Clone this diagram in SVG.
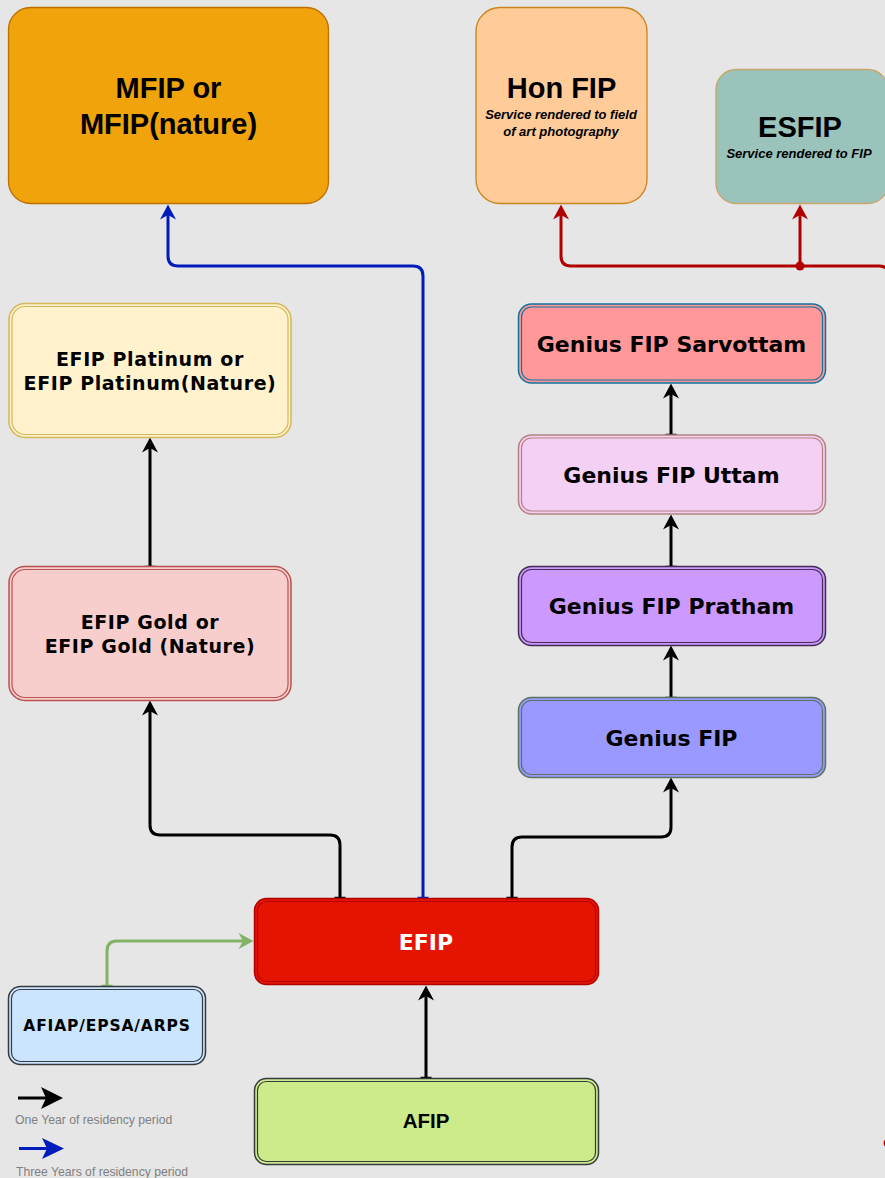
<svg xmlns="http://www.w3.org/2000/svg" width="885" height="1178" viewBox="0 0 885 1178">
<style>
.v{font-family:"DejaVu Sans",Verdana,sans-serif;font-weight:bold;fill:#000;text-anchor:middle}
.h{font-family:"Liberation Sans",Arial,Helvetica,sans-serif;font-weight:bold;fill:#000;text-anchor:middle}
.hi{font-family:"Liberation Sans",Arial,Helvetica,sans-serif;font-weight:bold;font-style:italic;fill:#000;text-anchor:middle;font-size:13px}
.leg{font-family:"Liberation Sans",Arial,Helvetica,sans-serif;fill:#808080;font-size:12.2px}
.c{fill:none;stroke-width:3;stroke-linejoin:round}
.in{fill:none;stroke-width:1.2}
</style>
<defs>
<marker id="ak" markerUnits="userSpaceOnUse" viewBox="0 0 16 16" refX="5" refY="8" markerWidth="16" markerHeight="16" orient="auto"><path d="M0.5,0 L15.5,8 L0.5,16 L5,8 Z" fill="#000"/></marker>
<marker id="ab" markerUnits="userSpaceOnUse" viewBox="0 0 16 16" refX="5" refY="8" markerWidth="16" markerHeight="16" orient="auto"><path d="M0.5,0 L15.5,8 L0.5,16 L5,8 Z" fill="#001dbc"/></marker>
<marker id="ar" markerUnits="userSpaceOnUse" viewBox="0 0 16 16" refX="5" refY="8" markerWidth="16" markerHeight="16" orient="auto"><path d="M0.5,0 L15.5,8 L0.5,16 L5,8 Z" fill="#b20000"/></marker>
<marker id="ag" markerUnits="userSpaceOnUse" viewBox="0 0 16 16" refX="5" refY="8" markerWidth="16" markerHeight="16" orient="auto"><path d="M0.5,0 L15.5,8 L0.5,16 L5,8 Z" fill="#82b366"/></marker>
<marker id="tk" markerUnits="userSpaceOnUse" viewBox="-2 -7 4 14" refX="0" refY="0" markerWidth="4" markerHeight="14" orient="auto"><path d="M0,-5.5 V5.5" stroke="#000" stroke-width="2.5"/></marker>
<marker id="tb" markerUnits="userSpaceOnUse" viewBox="-2 -7 4 14" refX="0" refY="0" markerWidth="4" markerHeight="14" orient="auto"><path d="M0,-5.5 V5.5" stroke="#001dbc" stroke-width="2.5"/></marker>
<marker id="tg" markerUnits="userSpaceOnUse" viewBox="-2 -7 4 14" refX="0" refY="0" markerWidth="4" markerHeight="14" orient="auto"><path d="M0,-5.5 V5.5" stroke="#82b366" stroke-width="2.5"/></marker>
</defs>
<rect width="885" height="1178" fill="#e6e6e6"/>

<g id="connectors">
<path class="c" stroke="#001dbc" d="M423,898 L423,276 Q423,266 413,266 L178,266 Q168,266 168,256 L168,215" marker-start="url(#tb)" marker-end="url(#ab)"/>
<path class="c" stroke="#000" d="M340,898 L340,845 Q340,835 330,835 L160,835 Q150,835 150,825 L150,711" marker-start="url(#tk)" marker-end="url(#ak)"/>
<path class="c" stroke="#000" d="M512,898 L512,847 Q512,837 522,837 L661,837 Q671,837 671,827 L671,788" marker-start="url(#tk)" marker-end="url(#ak)"/>
<path class="c" stroke="#000" d="M150,567 L150,448" marker-start="url(#tk)" marker-end="url(#ak)"/>
<path class="c" stroke="#000" d="M671,698 L671,656" marker-start="url(#tk)" marker-end="url(#ak)"/>
<path class="c" stroke="#000" d="M671,567 L671,525" marker-start="url(#tk)" marker-end="url(#ak)"/>
<path class="c" stroke="#000" d="M671,435 L671,394" marker-start="url(#tk)" marker-end="url(#ak)"/>
<path class="c" stroke="#000" d="M426,1078 L426,996" marker-start="url(#tk)" marker-end="url(#ak)"/>
<path class="c" stroke="#82b366" d="M107,986 L107,951 Q107,941 117,941 L243,941" marker-start="url(#tg)" marker-end="url(#ag)"/>
<path class="c" stroke="#b20000" d="M889,300 L889,276 Q889,266 879,266 L571,266 Q561,266 561,256 L561,215" marker-end="url(#ar)"/>
<path class="c" stroke="#b20000" d="M800,266 L800,215" marker-end="url(#ar)"/>
<circle cx="800" cy="266" r="4.5" fill="#b20000"/>
<circle cx="888" cy="1143" r="4.5" fill="#cc0000"/>
</g>

<g id="mfip">
<rect x="8.5" y="7.5" width="320" height="196" rx="22" fill="#f0a30a" stroke="#bd7000" stroke-width="1.3"/>
<text class="h" x="168.5" y="98" font-size="29">MFIP or</text>
<text class="h" x="168.5" y="134" font-size="29">MFIP(nature)</text>
</g>

<g id="honfip">
<rect x="476" y="7.5" width="171" height="196" rx="24" fill="#ffcc99" stroke="#c9841e" stroke-width="1.3"/>
<text class="h" x="561.5" y="98" font-size="29">Hon FIP</text>
<text class="hi" x="561" y="118.5">Service rendered to field</text>
<text class="hi" x="561" y="135.5">of art photography</text>
</g>

<g id="esfip">
<rect x="716" y="69.5" width="172" height="134" rx="20" fill="#9ac3bb" stroke="#c8a568" stroke-width="1.3"/>
<text class="h" x="800" y="137" font-size="29">ESFIP</text>
<text class="hi" x="799" y="158">Service rendered to FIP</text>
</g>

<g id="efip-platinum">
<rect x="9" y="303.5" width="282" height="134" rx="16" fill="#fff2cc" stroke="#d6b656" stroke-width="1.5"/>
<rect x="12" y="306.5" width="276" height="128" rx="13" class="in" stroke="#d6b656"/>
<text class="v" x="150" y="366" font-size="19" letter-spacing="0.6">EFIP Platinum or</text>
<text class="v" x="150" y="390" font-size="19" letter-spacing="0.6">EFIP Platinum(Nature)</text>
</g>

<g id="efip-gold">
<rect x="9" y="566.5" width="282" height="134" rx="16" fill="#f8cecc" stroke="#b85450" stroke-width="1.5"/>
<rect x="12" y="569.5" width="276" height="128" rx="13" class="in" stroke="#b85450"/>
<text class="v" x="150" y="629" font-size="19" letter-spacing="0.6">EFIP Gold or</text>
<text class="v" x="150" y="653" font-size="19" letter-spacing="0.6">EFIP Gold (Nature)</text>
</g>

<g id="genius-sarvottam">
<rect x="518.5" y="304" width="307" height="79" rx="13" fill="#ff9999" stroke="#10739e" stroke-width="1.5"/>
<rect x="521.5" y="307" width="301" height="73" rx="10" class="in" stroke="#10739e"/>
<text class="v" x="671.5" y="351.5" font-size="22">Genius FIP Sarvottam</text>
</g>

<g id="genius-uttam">
<rect x="518.5" y="435" width="307" height="79" rx="13" fill="#f5d0f5" stroke="#b5827f" stroke-width="1.5"/>
<rect x="521.5" y="438" width="301" height="73" rx="10" class="in" stroke="#b5827f"/>
<text class="v" x="671.5" y="482.5" font-size="22">Genius FIP Uttam</text>
</g>

<g id="genius-pratham">
<rect x="518.5" y="566.5" width="307" height="79" rx="13" fill="#cc99ff" stroke="#432d57" stroke-width="1.5"/>
<rect x="521.5" y="569.5" width="301" height="73" rx="10" class="in" stroke="#432d57"/>
<text class="v" x="671.5" y="614" font-size="22">Genius FIP Pratham</text>
</g>

<g id="genius-fip">
<rect x="518.5" y="697.5" width="307" height="80" rx="13" fill="#9999ff" stroke="#5a7560" stroke-width="1.5"/>
<rect x="521.5" y="700.5" width="301" height="74" rx="10" class="in" stroke="#5a7560"/>
<text class="v" x="671.5" y="745.5" font-size="22">Genius FIP</text>
</g>

<g id="efip">
<rect x="254.5" y="898.5" width="344" height="86" rx="12" fill="#e51400" stroke="#b20000" stroke-width="1.5"/>
<rect x="257.5" y="901.5" width="338" height="80" rx="9" class="in" stroke="#b20000"/>
<text class="v" x="426" y="949.5" font-size="22" style="fill:#fff">EFIP</text>
</g>

<g id="afip">
<rect x="254.5" y="1078.5" width="344" height="86" rx="12" fill="#cdeb8b" stroke="#36393d" stroke-width="1.5"/>
<rect x="257.5" y="1081.5" width="338" height="80" rx="9" class="in" stroke="#36393d"/>
<text class="h" x="426" y="1128" font-size="20.5">AFIP</text>
</g>

<g id="afiap">
<rect x="8.5" y="986.5" width="197" height="78" rx="12" fill="#cce5ff" stroke="#36393d" stroke-width="1.5"/>
<rect x="11.5" y="989.5" width="191" height="72" rx="9" class="in" stroke="#36393d"/>
<text class="v" x="107" y="1031" font-size="15.5" letter-spacing="0.85">AFIAP/EPSA/ARPS</text>
</g>

<g id="legend">
<line x1="18" y1="1098" x2="48" y2="1098" stroke="#000" stroke-width="3"/>
<polygon points="41,1087 63,1098 41,1109 46,1098" fill="#000"/>
<text class="leg" x="15" y="1123.5">One Year of residency period</text>
<line x1="19" y1="1148.5" x2="50" y2="1148.5" stroke="#001dbc" stroke-width="3"/>
<polygon points="42,1138 64,1148.5 42,1159 47,1148.5" fill="#001dbc"/>
<text class="leg" x="16" y="1176">Three Years of residency period</text>
</g>
</svg>
